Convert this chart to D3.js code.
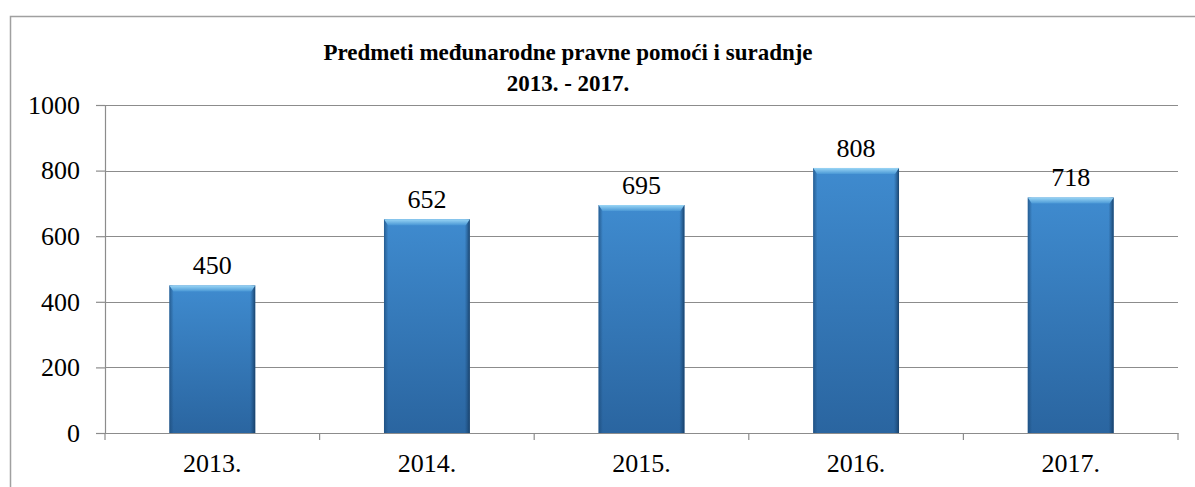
<!DOCTYPE html>
<html><head><meta charset="utf-8">
<script src="https://cdn.jsdelivr.net/npm/d3@7"></script>
<style>html,body{margin:0;padding:0;background:#fff;overflow:hidden}
svg text{font-family:"Liberation Serif","Times New Roman",serif !important;}</style>
</head><body>
<svg id="c" width="1195" height="487"></svg>
<script>
const categories = ["2013.", "2014.", "2015.", "2016.", "2017."];
const values = [450, 652, 695, 808, 718];
const yTicks = [0, 200, 400, 600, 800, 1000];
const titleLines = ["Predmeti međunarodne pravne pomoći i suradnje", "2013. - 2017."];

const svg = d3.select("#c");
const m = {left:105, right:1178, top:105, bottom:433};

// outer frame
svg.append("path").attr("d", "M10.5,487 L10.5,16.5 L1195,16.5")
  .attr("fill","none").attr("stroke","#a0a0a0").attr("stroke-width",1.5);

const x = d3.scaleBand().domain(categories).range([m.left, m.right]).paddingInner(0.6).paddingOuter(0.3);
const y = d3.scaleLinear().domain([0,1000]).range([m.bottom, m.top]);

const defs = svg.append("defs");
const gv = defs.append("linearGradient").attr("id","gv").attr("x1",0).attr("y1",0).attr("x2",0).attr("y2",1);
gv.append("stop").attr("offset","0%").attr("stop-color","#3f8bcf");
gv.append("stop").attr("offset","100%").attr("stop-color","#2a65a0");
const gh = defs.append("linearGradient").attr("id","gh").attr("x1",0).attr("y1",0).attr("x2",1).attr("y2",0);
gh.append("stop").attr("offset","0%").attr("stop-color","#1c4a78").attr("stop-opacity",0.7);
gh.append("stop").attr("offset","5%").attr("stop-color","#1c4a78").attr("stop-opacity",0);
gh.append("stop").attr("offset","94%").attr("stop-color","#1c4a78").attr("stop-opacity",0);
gh.append("stop").attr("offset","100%").attr("stop-color","#163c63").attr("stop-opacity",0.9);
const gt = defs.append("linearGradient").attr("id","gt").attr("x1",0).attr("y1",0).attr("x2",0).attr("y2",1);
gt.append("stop").attr("offset","0%").attr("stop-color","#9ad6f5");
gt.append("stop").attr("offset","100%").attr("stop-color","#4a98d6");

// gridlines
svg.append("g").selectAll("line").data(yTicks.filter(d=>d>0)).join("line")
  .attr("x1", m.left).attr("x2", m.right)
  .attr("y1", d=>Math.round(y(d))+0.5).attr("y2", d=>Math.round(y(d))+0.5)
  .attr("stroke","#8c8c8c").attr("stroke-width",1.2);

// bars
const bars = svg.append("g");
bars.selectAll("rect.b").data(values).join("rect").attr("class","b")
  .attr("x",(d,i)=>x(categories[i])).attr("width",x.bandwidth())
  .attr("y",d=>y(d)).attr("height",d=>y(0)-y(d)).attr("fill","url(#gv)");
bars.selectAll("rect.h").data(values).join("rect").attr("class","h")
  .attr("x",(d,i)=>x(categories[i])).attr("width",x.bandwidth())
  .attr("y",d=>y(d)).attr("height",d=>y(0)-y(d)).attr("fill","url(#gh)");
bars.selectAll("path.t").data(values).join("path").attr("class","t")
  .attr("d",(d,i)=>{const x0=x(categories[i]), x1=x0+x.bandwidth(), t=y(d);
    return `M${x0},${t} L${x1},${t} L${x1-4},${t+6} L${x0+4},${t+6} Z`;})
  .attr("fill","url(#gt)");

// axes
const ya = svg.append("g").attr("transform",`translate(${m.left},0)`)
  .call(d3.axisLeft(y).tickValues(yTicks).tickSize(9).tickPadding(16).tickFormat(d3.format("d")));
const xa = svg.append("g").attr("transform",`translate(0,${m.bottom})`)
  .call(d3.axisBottom(x).tickSize(0).tickPadding(21));
xa.append("g").selectAll("line").data(d3.range(categories.length+1)).join("line")
  .attr("x1",i=>m.left + i*x.step()).attr("x2",i=>m.left + i*x.step())
  .attr("y1",0).attr("y2",7).attr("stroke","#8c8c8c").attr("stroke-width",1.2);
[ya, xa].forEach(a=>{
  a.attr("font-family",null);
  a.select(".domain").attr("stroke","#8c8c8c").attr("stroke-width",1.2);
  a.selectAll(".tick line").attr("stroke","#8c8c8c").attr("stroke-width",1.2);
  a.selectAll("text").attr("font-size",26).attr("fill","#000");
});

// value labels
svg.append("g").selectAll("text").data(values).join("text")
  .attr("x",(d,i)=>x(categories[i])+x.bandwidth()/2).attr("y",d=>y(d)-11)
  .attr("text-anchor","middle").attr("font-size",26).text(d=>d);

// title
svg.append("g").selectAll("text").data(titleLines).join("text")
  .attr("x",568).attr("y",(d,i)=>60+i*31).attr("text-anchor","middle")
  .attr("font-weight","bold").attr("font-size",23).text(d=>d);
</script>
</body></html>
